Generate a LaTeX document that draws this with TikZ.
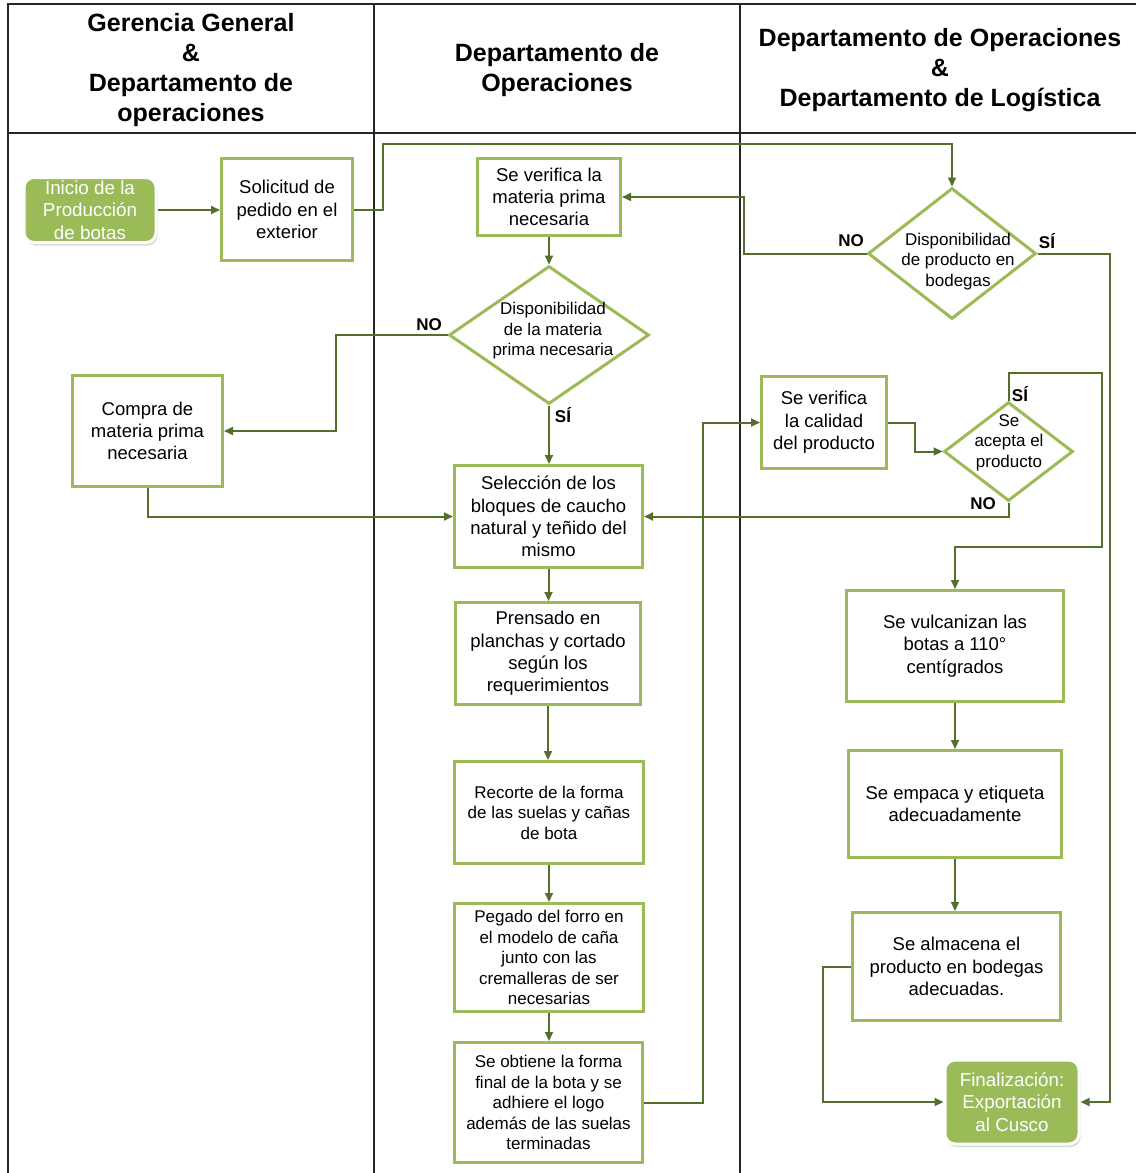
\documentclass[tikz,border=0pt]{standalone}
\usepackage{fontspec}
\setmainfont{Liberation Sans}
\usetikzlibrary{arrows.meta,shapes.geometric,shadows}
\definecolor{boxgreen}{RGB}{155,187,89}
\definecolor{linegreen}{RGB}{84,110,45}
\definecolor{framegray}{RGB}{38,38,38}

\begin{document}
\begin{tikzpicture}[x=1pt,y=-1pt,
  every node/.style={inner sep=0pt, align=center, text=black},
  box/.style={draw=boxgreen, line width=3pt, fill=white, font=\fontsize{18.5}{22.3}\selectfont},
  smallbox/.style={box, font=\fontsize{17}{20.5}\selectfont},
  dia/.style={diamond, draw=boxgreen, line width=3pt, fill=white},
  dtext/.style={font=\fontsize{17}{20.5}\selectfont},
  term/.style={rounded corners=10pt, fill=boxgreen, draw=white, line width=3pt,
    text=white, font=\fontsize{18.8}{22.5}\selectfont,
    drop shadow={opacity=0.3, shadow xshift=1.5pt, shadow yshift=-3pt}},
  conn/.style={draw=linegreen, line width=2pt, -{Triangle[length=9pt,width=8pt]}},
  lbl/.style={font=\bfseries\fontsize{17}{20}\selectfont},
  head/.style={font=\bfseries\fontsize{25}{30}\selectfont},
  frame/.style={draw=framegray, line width=2pt}
]
\useasboundingbox (0,0) rectangle (1136,1173);

% swimlane frame
\draw[frame] (8,1173) -- (8,4) -- (1136,4);
\draw[frame] (8,133) -- (1136,133);
\draw[frame] (374,4) -- (374,1173);
\draw[frame] (740,4) -- (740,1173);

% lane headings
\node[head] (h1) at (191,70) {Gerencia General\\\&\\Departamento de\\operaciones};
\node[head] (h2) at (557,70) {Departamento de\\Operaciones};
\node[head] (h3) at (940,70) {Departamento de Operaciones\\\&\\Departamento de Logística};

% terminals
\node[term, minimum width=132pt, minimum height=65pt] (start) at (90,210) {Inicio de la\\Producción\\de botas};
\node[term, minimum width=134pt, minimum height=84pt] (fin) at (1012,1102) {Finalización:\\Exportación\\al Cusco};

% process boxes
\node[box, minimum width=131pt, minimum height=102pt] (sol) at (287,209.5) {Solicitud de\\pedido en el\\exterior};
\node[box, minimum width=143pt, minimum height=77pt] (ver) at (549,197) {Se verifica la\\materia prima\\necesaria};
\node[box, minimum width=150pt, minimum height=111pt] (compra) at (147.5,431) {Compra de\\materia prima\\necesaria};
\node[box, minimum width=188pt, minimum height=102pt] (sel) at (548.5,516.5) {Selección de los\\bloques de caucho\\natural y teñido del\\mismo};
\node[box, minimum width=185pt, minimum height=102pt] (pren) at (548,653.5) {Prensado en\\planchas y cortado\\según los\\requerimientos};
\node[smallbox, minimum width=189pt, minimum height=102pt] (rec) at (549,812.5) {Recorte de la forma\\de las suelas y cañas\\de bota};
\node[smallbox, minimum width=189pt, minimum height=108pt] (peg) at (549,957.5) {Pegado del forro en\\el modelo de caña\\junto con las\\cremalleras de ser\\necesarias};
\node[smallbox, minimum width=188pt, minimum height=120pt] (obt) at (548.5,1102.5) {Se obtiene la forma\\final de la bota y se\\adhiere el logo\\además de las suelas\\terminadas};
\node[box, minimum width=125pt, minimum height=92pt] (cal) at (824,422.5) {Se verifica\\la calidad\\del producto};
\node[box, minimum width=217pt, minimum height=111pt] (vul) at (955,646) {Se vulcanizan las\\botas a 110°\\centígrados};
\node[box, minimum width=213pt, minimum height=107pt] (emp) at (955,804) {Se empaca y etiqueta\\adecuadamente};
\node[box, minimum width=208pt, minimum height=108pt] (alm) at (956.5,966.5) {Se almacena el\\producto en bodegas\\adecuadas.};

% decisions
\node[dia, minimum width=200pt, minimum height=138pt] (d1) at (549,335) {};
\node[dtext] (d1t) at (553,331) {Disponibilidad\\de la materia\\prima necesaria};
\node[dia, minimum width=168pt, minimum height=131pt] (d2) at (952,253.5) {};
\node[dtext] (d2t) at (958,261.5) {Disponibilidad\\de producto en\\bodegas};
\node[dia, minimum width=129pt, minimum height=99pt] (d3) at (1008.5,451.5) {};
\node[dtext] (d3t) at (1009,442.5) {Se\\acepta el\\producto};

% branch labels
\node[lbl] (l1) at (851,241) {NO};
\node[lbl] (l2) at (1047,241) {SÍ};
\node[lbl] (l3) at (429,325) {NO};
\node[lbl] (l4) at (563,415) {SÍ};
\node[lbl] (l5) at (1020,394) {SÍ};
\node[lbl] (l6) at (983,504) {NO};

\coordinate (k1) at (1102,547);

% connectors
\draw[conn] (start.east) -- (start.east -| sol.west);
\draw[conn] (sol.east) -- ++(29,0) |- ([yshift=43pt]d2.north) -- (d2.north);
\draw[conn] (d2.west) -- ++(-123,0) |- (ver.east);
\draw[conn] (d2.east) -- ++(72,0) |- (fin.east);
\draw[conn] (ver.south) -- (d1.north);
\draw[conn] (d1.west) -- ++(-112,0) |- (compra.east);
\draw[conn] (d1.south) -- (d1.south |- sel.north);
\draw[conn] (compra.south) |- (sel.west);
\draw[conn] (sel.south) -- (sel.south |- pren.north);
\draw[conn] (pren.south) -- (pren.south |- rec.north);
\draw[conn] (rec.south) -- (rec.south |- peg.north);
\draw[conn] (peg.south) -- (peg.south |- obt.north);
\draw[conn] (obt.east) -- ++(59,0) |- (cal.west);
\draw[conn] (cal.east) -- ++(27,0) |- (d3.west);
\draw[conn] (d3.north) -- ++(0,-28) -| (k1) -| (vul.north);
\draw[conn] (d3.south) |- (sel.east);
\draw[conn] (vul.south) -- (vul.south |- emp.north);
\draw[conn] (emp.south) -- (emp.south |- alm.north);
\draw[conn] (alm.west) -- ++(-28,0) |- (fin.west);
\end{tikzpicture}
\end{document}
